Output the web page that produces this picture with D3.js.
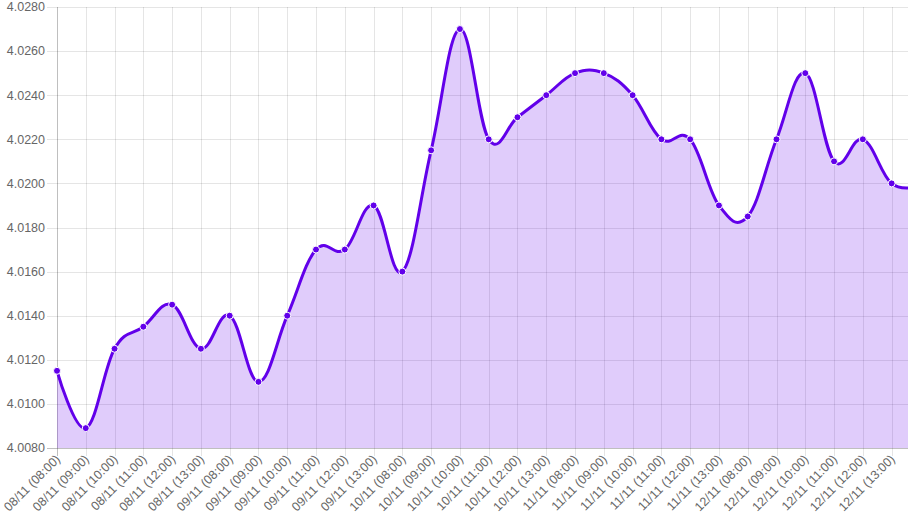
<!DOCTYPE html>
<meta charset="utf-8">
<script src="https://d3js.org/d3.v7.min.js"></script>
<style>
body { margin: 0; background: #fff; }
text { font-family: Arial, "Liberation Sans", sans-serif; font-size: 12.5px; fill: #666; }
</style>
<body>
<script>
// categories (last one sits just outside the visible area)
var labels = [
  "08/11 (08:00)", "08/11 (09:00)", "08/11 (10:00)", "08/11 (11:00)", "08/11 (12:00)", "08/11 (13:00)",
  "09/11 (08:00)", "09/11 (09:00)", "09/11 (10:00)", "09/11 (11:00)", "09/11 (12:00)", "09/11 (13:00)",
  "10/11 (08:00)", "10/11 (09:00)", "10/11 (10:00)", "10/11 (11:00)", "10/11 (12:00)", "10/11 (13:00)",
  "11/11 (08:00)", "11/11 (09:00)", "11/11 (10:00)", "11/11 (11:00)", "11/11 (12:00)", "11/11 (13:00)",
  "12/11 (08:00)", "12/11 (09:00)", "12/11 (10:00)", "12/11 (11:00)", "12/11 (12:00)", "12/11 (13:00)",
  "12/11 (14:00)"
];
var values = [
  4.0115, 4.0089, 4.0125, 4.0135, 4.0145, 4.0125,
  4.0140, 4.0110, 4.0140, 4.0170, 4.0170, 4.0190,
  4.0160, 4.0215, 4.0270, 4.0220, 4.0230, 4.0240,
  4.0250, 4.0250, 4.0240, 4.0220, 4.0220, 4.0190,
  4.0185, 4.0220, 4.0250, 4.0210, 4.0220, 4.0200,
  4.0199
];
var yTicks = [4.0080, 4.0100, 4.0120, 4.0140, 4.0160, 4.0180, 4.0200, 4.0220, 4.0240, 4.0260, 4.0280];

var width = 908, height = 521;
var mLeft = 57, mTop = 7, mBottom = 448, step = 28.78;

var svg = d3.select("body").append("svg")
    .attr("width", width)
    .attr("height", height);

var x = d3.scalePoint()
    .domain(labels)
    .range([mLeft, mLeft + step * (labels.length - 1)]);

var y = d3.scaleLinear()
    .domain([4.0080, 4.0280])
    .range([mBottom, mTop]);

var visible = labels.filter(function(d) { return x(d) < width; });

// grid
svg.append("g").selectAll("line")
    .data(yTicks)
    .enter().append("line")
    .attr("x1", mLeft - 10).attr("x2", width)
    .attr("y1", function(d) { return Math.round(y(d)) + 0.5; })
    .attr("y2", function(d) { return Math.round(y(d)) + 0.5; })
    .attr("stroke", function(d, i) { return i == 0 ? "rgba(0,0,0,0.25)" : "rgba(0,0,0,0.1)"; });

svg.append("g").selectAll("line")
    .data(visible)
    .enter().append("line")
    .attr("x1", function(d) { return Math.round(x(d)) + 0.5; })
    .attr("x2", function(d) { return Math.round(x(d)) + 0.5; })
    .attr("y1", mTop).attr("y2", mBottom + 8)
    .attr("stroke", function(d, i) { return i == 0 ? "rgba(0,0,0,0.25)" : "rgba(0,0,0,0.1)"; });

// y labels
svg.append("g").selectAll("text")
    .data(yTicks)
    .enter().append("text")
    .attr("x", mLeft - 12)
    .attr("y", function(d) { return y(d); })
    .attr("dy", "0.35em")
    .attr("text-anchor", "end")
    .text(function(d) { return d.toFixed(4); });

// x labels
svg.append("g").selectAll("text")
    .data(visible)
    .enter().append("text")
    .attr("text-anchor", "end")
    .attr("transform", function(d) {
        return "translate(" + (x(d) + 4) + "," + (mBottom + 12) + ") rotate(-45)";
    })
    .text(function(d) { return d; });

var pts = labels.map(function(d, i) { return [x(d), y(values[i])]; });

var curve = d3.curveCardinal.tension(-0.15);

var area = d3.area()
    .x(function(d) { return d[0]; })
    .y0(mBottom)
    .y1(function(d) { return d[1]; })
    .curve(curve);

var line = d3.line()
    .x(function(d) { return d[0]; })
    .y(function(d) { return d[1]; })
    .curve(curve);

svg.append("path")
    .datum(pts)
    .attr("d", area)
    .attr("fill", "rgba(98,0,234,0.2)");

svg.append("path")
    .datum(pts)
    .attr("d", line)
    .attr("fill", "none")
    .attr("stroke", "#6200ea")
    .attr("stroke-width", 3);

svg.append("g").selectAll("circle")
    .data(pts)
    .enter().append("circle")
    .attr("cx", function(d) { return d[0]; })
    .attr("cy", function(d) { return d[1]; })
    .attr("r", 3.5)
    .attr("fill", "#6200ea")
    .attr("stroke", "#fff")
    .attr("stroke-width", 1);
</script>
</body>
